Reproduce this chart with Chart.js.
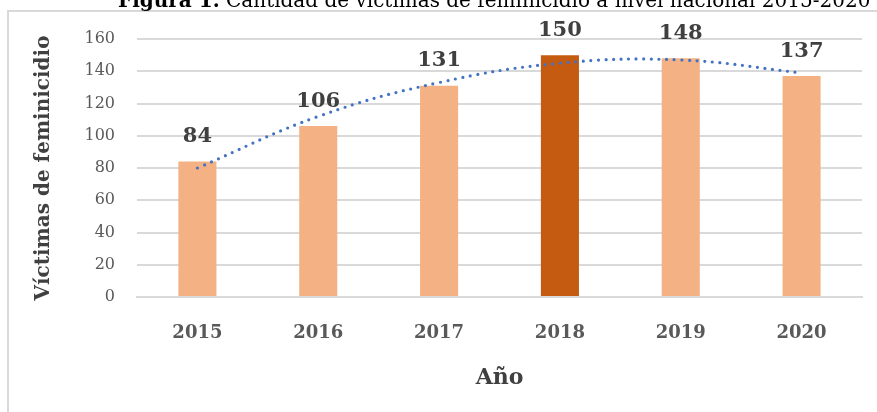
<!DOCTYPE html>
<html>
<head>
<meta charset="utf-8">
<script src="https://cdn.jsdelivr.net/npm/chart.js@4.4.1/dist/chart.umd.min.js"></script>
<style>
html,body{margin:0;padding:0;background:#fff;}
#wrap{width:877px;height:412px;position:relative;}
</style>
</head>
<body>
<div id="wrap"><canvas id="c" width="877" height="412"></canvas></div>
<script>
const years = ['2015', '2016', '2017', '2018', '2019', '2020'];
const victims = [84, 106, 131, 150, 148, 137];
const trend = [80, 112, 133, 145, 147, 139];
const barColors = ['#F4B183', '#F4B183', '#F4B183', '#C55A11', '#F4B183', '#F4B183'];
const yTicks = [0, 20, 40, 60, 80, 100, 120, 140, 160];

const SERIF = '"DejaVu Serif", "Liberation Serif", serif';

const decor = {
  id: 'decor',
  beforeDraw(chart) {
    const ctx = chart.ctx;
    ctx.save();
    ctx.fillStyle = '#ffffff';
    ctx.fillRect(0, 0, chart.width, chart.height);
    ctx.strokeStyle = '#D9D9D9';
    ctx.lineWidth = 2;
    ctx.strokeRect(8, 11, chart.width + 20, chart.height + 20);
    // title (clipped at top as in reference)
    ctx.textBaseline = 'alphabetic';
    ctx.fillStyle = '#000000';
    ctx.font = 'bold 20px ' + SERIF;
    let x = 118;
    const a = 'Figura 1.';
    ctx.fillText(a, x, 7);
    x += ctx.measureText(a).width;
    ctx.font = '20px ' + SERIF;
    ctx.fillText(' Cantidad de víctimas de feminicidio a nivel nacional 2015-2020', x, 7);
    ctx.restore();
  },
  afterDatasetsDraw(chart) {
    const ctx = chart.ctx;
    const meta = chart.getDatasetMeta(1);
    ctx.save();
    ctx.font = 'bold 21px ' + SERIF;
    ctx.fillStyle = '#404040';
    ctx.textAlign = 'center';
    ctx.textBaseline = 'middle';
    meta.data.forEach((bar, i) => {
      ctx.fillText(String(victims[i]), bar.x, bar.y - 25);
    });
    ctx.restore();
  }
};

new Chart(document.getElementById('c'), {
  data: {
    labels: years,
    datasets: [
      {
        type: 'line',
        data: trend,
        borderColor: '#4472C4',
        borderWidth: 3.2,
        borderDash: [0, 7.6],
        borderCapStyle: 'round',
        pointRadius: 0,
        tension: 0.4,
        fill: false,
        order: 0
      },
      {
        type: 'bar',
        data: victims,
        backgroundColor: barColors,
        borderWidth: 0,
        barPercentage: 0.315,
        categoryPercentage: 1,
        order: 1
      }
    ]
  },
  options: {
    responsive: false,
    animation: false,
    devicePixelRatio: 1,
    layout: { padding: { left: 10, right: 15, top: 39, bottom: 0 } },
    plugins: { legend: { display: false }, tooltip: { enabled: false }, title: { display: false } },
    scales: {
      x: {
        grid: { display: false, drawTicks: false },
        border: { display: true, color: '#D9D9D9', width: 2 },
        ticks: { color: '#595959', font: { family: SERIF, size: 18, weight: 'bold' }, padding: 26 },
        title: { display: true, text: 'Año', color: '#404040', font: { family: SERIF, size: 22, weight: 'bold' }, padding: { top: 0, bottom: 21 } },
        afterFit(s) { s.height = 115; }
      },
      y: {
        min: 0, max: 160,
        afterBuildTicks(s) { s.ticks = yTicks.map(v => ({ value: v })); },
        grid: { color: '#D9D9D9', lineWidth: 2, drawTicks: false },
        border: { display: false },
        ticks: { color: '#595959', font: { family: SERIF, size: 16 }, padding: 22 },
        title: { display: true, text: 'Víctimas de feminicidio', color: '#404040', font: { family: SERIF, size: 20, weight: 'bold' }, padding: { top: 22, bottom: 0 } },
        afterFit(s) { s.width = 127; }
      }
    }
  },
  plugins: [decor]
});
</script>
</body>
</html>
